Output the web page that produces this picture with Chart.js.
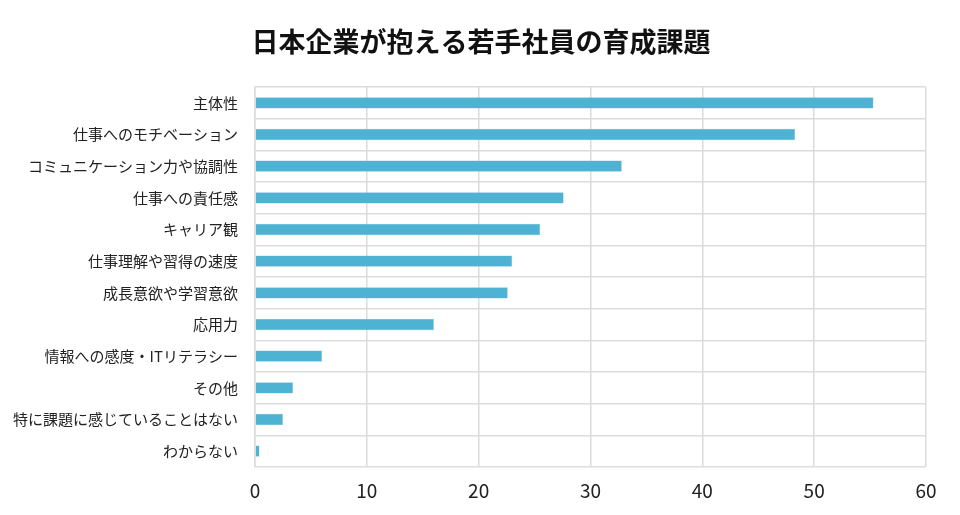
<!DOCTYPE html>
<html>
<head>
<meta charset="utf-8">
<script src="https://cdn.jsdelivr.net/npm/chart.js@4.4.0/dist/chart.umd.min.js"></script>
<style>
  body { margin: 0; background: #fff; }
  #chart { display: block; }
</style>
</head>
<body>
<canvas id="chart" width="960" height="515"></canvas>
<script>
var titleText = '日本企業が抱える若手社員の育成課題';
var categories = ["主体性", "仕事へのモチベーション", "コミュニケーション力や協調性", "仕事への責任感", "キャリア観", "仕事理解や習得の速度", "成長意欲や学習意欲", "応用力", "情報への感度・ITリテラシー", "その他", "特に課題に感じていることはない", "わからない"];
var values = [55.3, 48.3, 32.8, 27.6, 25.5, 23.0, 22.6, 16.0, 6.0, 3.4, 2.5, 0.4];
var tickValues = [0, 10, 20, 30, 40, 50, 60];

var font = "'Noto Sans CJK JP', 'Noto Sans', sans-serif";

// title centred on the whole page, not on the plot
var pageTitle = {
  id: 'pageTitle',
  afterDraw: function (chart) {
    var c = chart.ctx;
    c.save();
    c.fillStyle = '#111';
    c.font = 'bold 27px ' + font;
    c.textAlign = 'center';
    c.textBaseline = 'middle';
    c.fillText(titleText, chart.width / 2 + 1, 42);
    c.restore();
  }
};

var ctx = document.getElementById('chart');

var myBarChart = new Chart(ctx, {
  type: 'bar',
  data: {
    labels: categories,
    datasets: [{
      label: '',
      data: values,
      backgroundColor: '#4eb2d2',
      borderColor: '#7cc6de',
      borderWidth: 0.5,
      categoryPercentage: 1,
      barPercentage: 0.36
    }]
  },
  plugins: [pageTitle],
  options: {
    indexAxis: 'y',
    responsive: false,
    animation: false,
    layout: { padding: { left: 0, right: 34, top: 87, bottom: 0 } },
    plugins: {
      legend: { display: false },
      tooltip: { enabled: false },
      title: { display: false }
    },
    scales: {
      x: {
        min: 0,
        max: 60,
        afterBuildTicks: function (scale) {
          scale.ticks = tickValues.map(function (v) { return { value: v }; });
        },
        afterFit: function (scale) { scale.height = 48; },
        grid: { color: '#dcdcdc', lineWidth: 1.5, drawTicks: false },
        border: { display: false },
        ticks: {
          color: '#222',
          font: { family: font, size: 19 },
          padding: 12
        }
      },
      y: {
        afterFit: function (scale) { scale.width = 255; },
        grid: { color: '#dcdcdc', lineWidth: 1.5, drawTicks: false, offset: true },
        border: { color: '#dcdcdc', width: 1.5 },
        ticks: {
          color: '#222',
          font: { family: font, size: 15 },
          padding: 17
        }
      }
    }
  }
});
</script>
</body>
</html>
